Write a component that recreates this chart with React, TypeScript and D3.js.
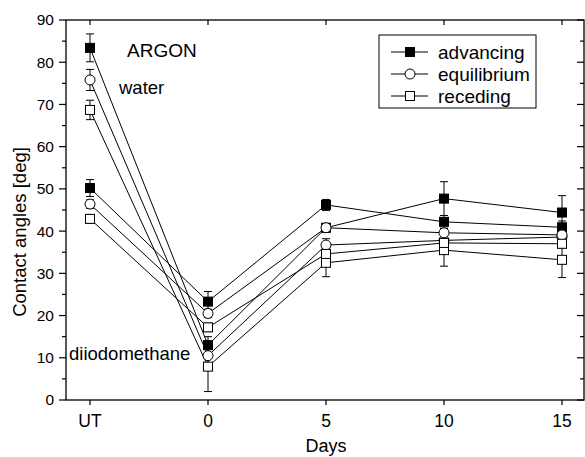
import React from "react";
import * as d3 from "d3";

const categories = ["UT", "0", "5", "10", "15"];
const yTicks = [0, 10, 20, 30, 40, 50, 60, 70, 80, 90];
const yMinor = [5, 15, 25, 35, 45, 55, 65, 75, 85];

// water series
const waterAdv = [83.4, 13.0, 40.8, 47.7, 44.4];
const waterAdvErr = [3.3, 2.0, 1.0, 4.0, 4.0];
const waterEq = [75.8, 10.5, 36.7, 37.8, 38.6];
const waterEqErr = [2.5, 2.5, 1.5, 2.0, 2.0];
const waterRec = [68.7, 7.9, 32.5, 35.5, 33.2];
const waterRecErr = [2.3, 5.9, 3.3, 3.8, 4.2];
// diiodomethane series
const diiAdv = [50.2, 23.3, 46.2, 42.2, 40.9];
const diiAdvErr = [2.0, 2.4, 1.3, 1.5, 1.5];
const diiEq = [46.4, 20.5, 40.8, 39.6, 39.1];
const diiEqErr = [1.0, 1.0, 0.8, 1.0, 1.0];
const diiRec = [42.9, 17.2, 34.6, 37.2, 37.0];
const diiRecErr = [1.0, 1.0, 1.0, 1.0, 1.0];

const legendLabels = ["advancing", "equilibrium", "receding"];

type Marker = "filled" | "circle" | "square";
const series: { v: number[]; e: number[]; m: Marker }[] = [
  { v: waterAdv, e: waterAdvErr, m: "filled" },
  { v: waterEq, e: waterEqErr, m: "circle" },
  { v: waterRec, e: waterRecErr, m: "square" },
  { v: diiAdv, e: diiAdvErr, m: "filled" },
  { v: diiEq, e: diiEqErr, m: "circle" },
  { v: diiRec, e: diiRecErr, m: "square" },
];

const FONT = "Liberation Sans, Arial, sans-serif";

function Mark({ x, y, m }: { x: number; y: number; m: Marker }) {
  if (m === "circle")
    return <circle cx={x} cy={y} r={5} fill="white" stroke="black" strokeWidth={1} />;
  return (
    <rect
      x={x - 4.5}
      y={y - 4.5}
      width={9}
      height={9}
      fill={m === "filled" ? "black" : "white"}
      stroke="black"
      strokeWidth={1}
    />
  );
}

export default function App() {
  const W = 585,
    H = 457;
  const L = 66,
    R = 584,
    T = 20,
    B = 400;
  const x = d3.scalePoint<string>().domain(categories).range([90, 562]);
  const y = d3.scaleLinear().domain([0, 90]).range([B, T]);
  const line = d3
    .line<number>()
    .x((_, i) => x(categories[i])!)
    .y((d) => y(d));

  return (
    <svg
      width={W}
      height={H}
      style={{ position: "absolute", left: 0, top: 0, background: "white" }}
      fontFamily={FONT}
    >
      <rect x={0} y={0} width={W} height={H} fill="white" />
      {/* lines */}
      {series.map((s, k) => (
        <path key={"l" + k} d={line(s.v) || ""} fill="none" stroke="black" strokeWidth={1} />
      ))}
      {/* error bars */}
      {series.map((s, k) =>
        s.v.map((v, i) => {
          const cx = x(categories[i])!;
          const y1 = y(v + s.e[i]);
          const y2 = y(v - s.e[i]);
          return (
            <g key={"e" + k + "-" + i} stroke="black" strokeWidth={1}>
              <line x1={cx} x2={cx} y1={y1} y2={y2} />
              <line x1={cx - 4} x2={cx + 4} y1={y1} y2={y1} />
              <line x1={cx - 4} x2={cx + 4} y1={y2} y2={y2} />
            </g>
          );
        })
      )}
      {/* markers */}
      {series.map((s, k) =>
        s.v.map((v, i) => (
          <Mark key={"m" + k + "-" + i} x={x(categories[i])!} y={y(v)} m={s.m} />
        ))
      )}

      {/* frame */}
      <rect x={L} y={T} width={R - L} height={B - T} fill="none" stroke="black" strokeWidth={1.3} />
      {/* ticks */}
      {yTicks.map((t) => (
        <g key={"yt" + t}>
          <line x1={L - 7} x2={L} y1={y(t)} y2={y(t)} stroke="black" strokeWidth={1.2} />
          <line x1={R - 7} x2={R} y1={y(t)} y2={y(t)} stroke="black" strokeWidth={1.2} />
          <text x={L - 12} y={y(t)} dy="0.35em" textAnchor="end" fontSize={15.5}>
            {t}
          </text>
        </g>
      ))}
      {yMinor.map((t) => (
        <g key={"ym" + t}>
          <line x1={L - 4} x2={L} y1={y(t)} y2={y(t)} stroke="black" strokeWidth={1.2} />
          <line x1={R - 4} x2={R} y1={y(t)} y2={y(t)} stroke="black" strokeWidth={1.2} />
        </g>
      ))}
      {categories.map((c) => (
        <g key={"xt" + c}>
          <line x1={x(c)} x2={x(c)} y1={B} y2={B + 5} stroke="black" strokeWidth={1.2} />
          <line x1={x(c)} x2={x(c)} y1={T} y2={T + 5} stroke="black" strokeWidth={1.2} />
          <text x={x(c)} y={427} textAnchor="middle" fontSize={17.5}>
            {c}
          </text>
        </g>
      ))}
      <text x={326} y={452} textAnchor="middle" fontSize={18}>
        Days
      </text>
      <text
        transform={`translate(26,232) rotate(-90)`}
        textAnchor="middle"
        fontSize={18.5}
      >
        Contact angles [deg]
      </text>

      {/* annotations */}
      <text x={127} y={57} fontSize={19}>
        ARGON
      </text>
      <text x={119} y={94} fontSize={18.5}>
        water
      </text>
      <text x={69} y={360} fontSize={18.5}>
        diiodomethane
      </text>

      {/* legend */}
      <rect x={379} y={35} width={157} height={73} fill="white" stroke="black" strokeWidth={1} />
      {legendLabels.map((lab, i) => {
        const ly = 52 + i * 22;
        const m: Marker = i === 0 ? "filled" : i === 1 ? "circle" : "square";
        return (
          <g key={"lg" + i}>
            <line x1={391} x2={428} y1={ly} y2={ly} stroke="black" strokeWidth={1} />
            <Mark x={410} y={ly} m={m} />
            <text x={438} y={ly} dy="0.35em" fontSize={19}>
              {lab}
            </text>
          </g>
        );
      })}
    </svg>
  );
}
